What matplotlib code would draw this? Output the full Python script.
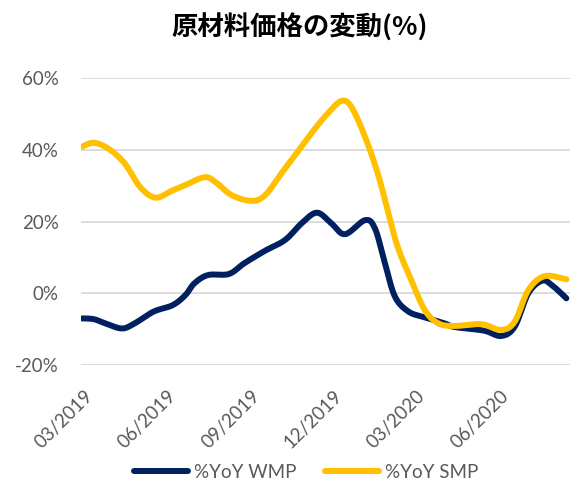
import numpy as np
import pandas as pd
import matplotlib
matplotlib.use('Agg')
import matplotlib.pyplot as plt
import matplotlib.dates as mdates

plt.rcParams['font.family'] = ['Lato', 'Noto Sans CJK JP', 'DejaVu Sans']

# values, % year on year
wmp_dates = ['2019-02-20', '2019-03-05', '2019-03-18', '2019-04-05', '2019-04-19',
             '2019-05-10', '2019-05-31', '2019-06-14', '2019-06-24', '2019-07-09',
             '2019-08-01', '2019-08-18', '2019-09-10', '2019-10-02', '2019-10-20',
             '2019-11-06', '2019-11-22', '2019-12-07', '2019-12-29', '2020-01-09',
             '2020-01-20', '2020-01-31', '2020-02-15', '2020-03-04', '2020-03-26',
             '2020-04-06', '2020-05-08', '2020-05-27', '2020-06-11', '2020-06-26',
             '2020-07-11', '2020-07-22', '2020-08-07']
wmp_vals = [-7.0, -7.2, -8.4, -9.8, -8.4,
            -5.1, -3.3, -0.5, 2.8, 5.1,
            5.4, 8.4, 11.9, 14.9, 19.5,
            22.5, 19.5, 16.5, 20.4, 18.1,
            8.4, -0.9, -5.1, -6.7, -8.4,
            -9.4, -10.4, -11.9, -9.3, 0.0,
            3.5, 2.3, -1.4]

smp_dates = ['2019-02-20', '2019-03-05', '2019-03-21', '2019-04-08', '2019-04-25',
             '2019-05-12', '2019-05-30', '2019-06-14', '2019-07-05', '2019-07-17',
             '2019-08-04', '2019-08-26', '2019-09-10', '2019-09-28', '2019-10-20',
             '2019-11-04', '2019-11-18', '2019-12-03', '2019-12-14', '2019-12-29',
             '2020-01-12', '2020-01-23', '2020-02-03', '2020-02-18', '2020-03-04',
             '2020-03-19', '2020-04-06', '2020-05-05', '2020-05-27', '2020-06-11',
             '2020-06-26', '2020-07-14', '2020-08-07']
smp_vals = [40.9, 42.0, 40.4, 36.3, 29.7,
            26.7, 28.6, 30.2, 32.4, 31.1,
            27.4, 25.8, 27.4, 33.5, 40.9,
            46.0, 50.2, 53.7, 52.0, 43.7,
            33.5, 23.2, 13.0, 3.7, -4.7,
            -8.4, -9.1, -8.6, -10.2, -7.9,
            0.9, 4.8, 3.9]

tick_dates = ['2019-03-01', '2019-06-01', '2019-09-01', '2019-12-01', '2020-03-01', '2020-06-01']
tick_labels = ['03/2019', '06/2019', '09/2019', '12/2019', '03/2020', '06/2020']
yticks = [-20, 0, 20, 40, 60]

navy = '#002060'
gold = '#FFC000'
grey = '#595959'


def smooth(x, y, aspect, n=24):
    # excel style smoothed line: bezier segments with control points from neighbours
    P = np.column_stack([np.asarray(x, float) * aspect, np.asarray(y, float)])
    P = np.vstack([P[0], P, P[-1]])
    t = np.linspace(0, 1, n)[:, None]
    out = []
    for i in range(1, len(P) - 2):
        p0, p1, p2, p3 = P[i - 1], P[i], P[i + 1], P[i + 2]
        c1 = p1 + (p2 - p0) / 6
        c2 = p2 - (p3 - p1) / 6
        seg = (1 - t)**3 * p1 + 3 * (1 - t)**2 * t * c1 + 3 * (1 - t) * t**2 * c2 + t**3 * p2
        out.append(seg if i == 1 else seg[1:])
    out = np.vstack(out)
    return out[:, 0] / aspect, out[:, 1]


fig = plt.figure(figsize=(5.73, 4.82), dpi=100)
ax = fig.add_axes([0.1414, 0.2427, 0.8534, 0.5949])

aspect = 0.253  # days -> % units, so the curve is smoothed in screen space
for d, v, c, lab in [(wmp_dates, wmp_vals, navy, '%YoY WMP'),
                     (smp_dates, smp_vals, gold, '%YoY SMP')]:
    xn = mdates.date2num(pd.to_datetime(d))
    sx, sy = smooth(xn, v, aspect)
    ax.plot(sx, sy, color=c, lw=4.3, solid_capstyle='round', label=lab)

ax.set_ylim(-20, 60)
ax.set_yticks(yticks)
ax.set_yticklabels([f'{v}%' for v in yticks])
ax.set_xlim(mdates.date2num(pd.Timestamp('2019-02-19')), mdates.date2num(pd.Timestamp('2020-08-11')))
ax.set_xticks(mdates.date2num(pd.to_datetime(tick_dates)))
ax.set_xticklabels(tick_labels, rotation=45, ha='right', va='center', rotation_mode='anchor')

ax.grid(axis='y', color='#D9D9D9', lw=1.3)
ax.set_axisbelow(True)
for s in ax.spines.values():
    s.set_visible(False)
ax.tick_params(axis='both', length=0, labelsize=13.5, labelcolor=grey)
ax.tick_params(axis='y', pad=16)
ax.tick_params(axis='x', pad=20)

fig.text(300 / 573, 1 - 28 / 482, '原材料価格の変動(%)', ha='center', va='center',
         fontsize=19, fontweight='bold', family=['Noto Sans CJK JP', 'DejaVu Sans'])

fig.legend(loc='center', bbox_to_anchor=(0.534, 1 - 472 / 482), ncol=2, frameon=False,
           handlelength=2.9, fontsize=13.5, labelcolor=grey, columnspacing=1.5, handletextpad=0.3)

fig.savefig('out.png', dpi=100)
